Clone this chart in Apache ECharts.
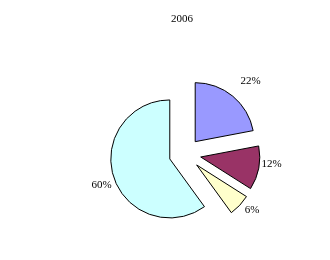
<!DOCTYPE html>
<html><head><meta charset="utf-8">
<script src="https://cdn.jsdelivr.net/npm/echarts@6/dist/echarts.min.js"></script>
<style>html,body{margin:0;padding:0;background:#fff}#c{width:330px;height:260px}</style>
</head><body><div id="c"></div>
<script>
const categories = ['A', 'B', 'C', 'D'];
const values = [22, 12, 6, 60];
const colors = ['#9999FF', '#993366', '#FFFFCC', '#CCFFFF'];
const title = '2006';

// label layout tweaks (radial gap, and small nudges)
const labelLen = [20, 3, 7, 2];
const labelDx = [-5, 0, 0, 0];
const labelDy = [0, -5, 0, 7];

const chart = echarts.init(document.getElementById('c'), null, {renderer: 'canvas'});
chart.setOption({
  animation: false,
  backgroundColor: '#fff',
  title: {text: title, left: 171, top: 14, padding: 0,
    textStyle: {fontFamily: 'Liberation Serif', fontSize: 11, fontWeight: 'normal', color: '#000'}},
  series: [{
    type: 'pie',
    center: [185, 154],
    radius: 59,
    startAngle: 90,
    clockwise: true,
    selectedMode: 'multiple',
    selectedOffset: 16,
    avoidLabelOverlap: false,
    label: {show: true, position: 'outside', formatter: '{d}%', distanceToLabelLine: 0,
      fontFamily: 'Liberation Serif', fontSize: 11, color: '#000'},
    labelLine: {show: false, length2: 0},
    labelLayout: function (p) { return {dx: labelDx[p.dataIndex], dy: labelDy[p.dataIndex]}; },
    itemStyle: {borderColor: '#000', borderWidth: 1},
    emphasis: {disabled: true},
    data: categories.map((c, i) => ({name: c, value: values[i], selected: true,
      labelLine: {length: labelLen[i]},
      itemStyle: {color: colors[i]}}))
  }]
});
</script></body></html>
